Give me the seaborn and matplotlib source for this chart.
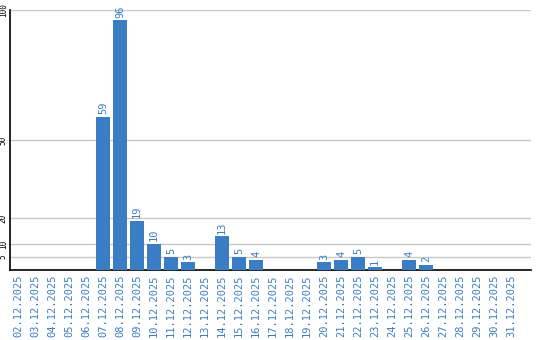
import matplotlib
matplotlib.use("Agg")
import matplotlib.pyplot as plt
import seaborn as sns
import pandas as pd

dates = [f"{d:02d}.12.2025" for d in range(2, 32)]
values = [0, 0, 0, 0, 0, 59, 96, 19, 10, 5, 3, 0, 13, 5, 4, 0, 0, 0, 3, 4, 5, 1, 0, 4, 2, 0, 0, 0, 0, 0]
yticks = [5, 10, 20, 50, 100]

sns.set_style("white")
plt.rcParams['font.family'] = ['DejaVu Sans Mono', 'DejaVu Sans']

color = "#3b7dc4"
df = pd.DataFrame({"date": dates, "value": values})

fig = plt.figure(figsize=(5.4, 3.4), dpi=100)
ax = fig.add_axes([0.0185, 0.206, 0.965, 0.765])
sns.barplot(data=df, x="date", y="value", color=color, width=0.82, saturation=1,
            linewidth=0, ax=ax, zorder=3)
ax.set_xlim(-0.47, 30.18)
ax.set_ylim(0, 100)
ax.set_yticks(yticks)
ax.set_yticklabels([str(t) for t in yticks], rotation=90, va="center", fontsize=5.5, color="black")
ax.yaxis.grid(True, color="#c8c8c8", linewidth=1, zorder=0)
ax.tick_params(axis="y", length=0, pad=1.5)
ax.tick_params(axis="x", length=0, pad=3)
ax.set_xticks(range(len(dates)))
ax.set_xticklabels(dates, rotation=90, fontsize=7.5, color=color)
ax.set_xlabel("")
ax.set_ylabel("")
for s in ["top", "right"]:
    ax.spines[s].set_visible(False)
for s in ["left", "bottom"]:
    ax.spines[s].set_color("black")
    ax.spines[s].set_linewidth(1.2)

for i, v in enumerate(values):
    if v > 0:
        ax.text(i, v + 1, str(v), rotation=90, ha="center", va="bottom", fontsize=7.5, color=color, zorder=4)

fig.savefig("out.png", dpi=100)
